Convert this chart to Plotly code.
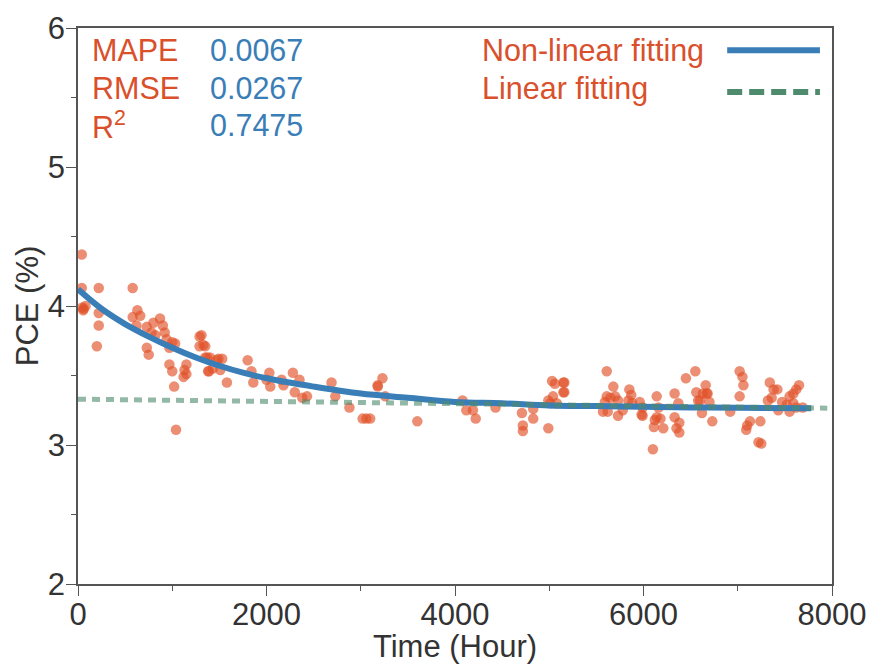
import plotly.graph_objects as go

# Measured PCE points
time_h = [40, 40, 45, 60, 80, 55, 220, 220, 220, 200, 580, 630, 580, 620, 660, 730, 800, 870, 900, 780,
          820, 730, 750, 920, 940, 1000, 1030, 970, 970, 1000, 1020, 1040, 1150, 1130, 1150, 1120, 1290, 1290,
          1350, 1350, 1400, 1490, 1380, 1430, 1310, 1330, 1370, 1390, 1470, 1530, 1510, 1580, 1800, 1840,
          1860, 2030, 2000, 2040, 2160, 2180, 2280, 2350, 2300, 2380, 2430, 2690, 2730, 2880, 3020, 3060,
          3180, 3230, 3180, 3260, 3100, 3600, 4080, 4120, 4190, 4220, 4430, 4710, 4720, 4720, 4830, 4830,
          4990, 4990, 5030, 5060, 5040, 5150, 5150, 5010, 5080, 5160, 5160, 5610, 5680, 5610, 5590, 5650,
          5700, 5730, 5570, 5620, 5730, 5780, 5850, 5870, 5840, 5880, 5960, 5990, 5980, 5990, 6140, 6160,
          6140, 6120, 6180, 6110, 6210, 6100, 6330, 6370, 6330, 6380, 6350, 6380, 6450, 6550, 6560, 6600,
          6620, 6660, 6670, 6630, 6680, 6580, 6700, 6730, 6920, 7020, 7050, 7060, 7020, 7130, 7100, 7090,
          7240, 7220, 7250, 7340, 7380, 7420, 7320, 7360, 7470, 7550, 7590, 7620, 7650, 7520, 7590, 7550,
          7620, 7690, 7430]
pce = [4.37, 4.13, 3.99, 3.98, 4.00, 3.97, 4.13, 3.95, 3.86, 3.71, 4.13, 3.97, 3.92, 3.86, 3.93, 3.85, 3.88,
       3.91, 3.86, 3.81, 3.79, 3.70, 3.65, 3.81, 3.76, 3.74, 3.73, 3.70, 3.58, 3.53, 3.42, 3.11, 3.58, 3.54,
       3.51, 3.49, 3.78, 3.71, 3.71, 3.63, 3.63, 3.62, 3.53, 3.55, 3.79, 3.72, 3.63, 3.53, 3.61, 3.62, 3.54,
       3.45, 3.61, 3.53, 3.45, 3.52, 3.47, 3.42, 3.47, 3.43, 3.52, 3.47, 3.38, 3.34, 3.35, 3.45, 3.35, 3.27,
       3.19, 3.19, 3.42, 3.48, 3.43, 3.35, 3.19, 3.17, 3.32, 3.25, 3.25, 3.19, 3.27, 3.23, 3.14, 3.10, 3.26,
       3.19, 3.12, 3.32, 3.46, 3.44, 3.35, 3.45, 3.38, 3.30, 3.30, 3.45, 3.38, 3.53, 3.42, 3.35, 3.31, 3.34,
       3.35, 3.32, 3.24, 3.24, 3.21, 3.25, 3.40, 3.36, 3.32, 3.30, 3.31, 3.27, 3.22, 3.21, 3.35, 3.27, 3.20,
       3.18, 3.19, 3.13, 3.12, 2.97, 3.37, 3.30, 3.20, 3.16, 3.12, 3.09, 3.48, 3.53, 3.38, 3.32, 3.23, 3.43,
       3.37, 3.37, 3.37, 3.32, 3.31, 3.17, 3.24, 3.53, 3.49, 3.43, 3.35, 3.17, 3.14, 3.11, 3.17, 3.02, 3.01,
       3.45, 3.40, 3.40, 3.32, 3.34, 3.31, 3.35, 3.37, 3.40, 3.43, 3.29, 3.30, 3.24, 3.27, 3.27, 3.25]

# Non-linear fitted curve
fit_x = [0, 250, 500, 750, 1000, 1250, 1500, 1750, 2000, 2500, 3000, 3500, 4000, 4500, 5000, 5500,
         6000, 6500, 7000, 7780]
fit_y = [4.12, 3.98, 3.87, 3.78, 3.70, 3.63, 3.57, 3.52, 3.48, 3.42, 3.37, 3.34, 3.31, 3.30, 3.285,
         3.28, 3.275, 3.27, 3.268, 3.265]

# Linear fit
lin_x = [0, 7950]
lin_y = [3.33, 3.265]

metric_names = ["MAPE", "RMSE", "R<sup>2</sup>"]
metric_values = ["0.0067", "0.0267", "0.7475"]
legend_names = ["Non-linear fitting", "Linear fitting"]

RED = "#d9502b"
BLUE = "#3a7eb7"
GREEN = "#4e8a6c"
FONT = "Liberation Sans, Arial, sans-serif"

fig = go.Figure()
fig.add_trace(go.Scatter(x=time_h, y=pce, mode="markers",
                         marker=dict(size=10.5, color="rgb(224,82,40)", opacity=0.65, line=dict(width=0)),
                         showlegend=False))
fig.add_trace(go.Scatter(x=fit_x, y=fit_y, mode="lines", line=dict(color=BLUE, width=6, shape="spline"),
                         showlegend=False))
fig.add_trace(go.Scatter(x=lin_x, y=lin_y, mode="lines", opacity=0.6,
                         line=dict(color=GREEN, width=5, dash="8px,6px"), showlegend=False))

rows_y = [0.960, 0.892, 0.826]
for i, (n, v) in enumerate(zip(metric_names, metric_values)):
    fig.add_annotation(x=0.016, y=rows_y[i], xref="paper", yref="paper", text=n, showarrow=False,
                       xanchor="left", yanchor="middle", font=dict(size=30.5, color=RED, family=FONT))
    fig.add_annotation(x=0.172, y=rows_y[i], xref="paper", yref="paper", text=v, showarrow=False,
                       xanchor="left", yanchor="middle", font=dict(size=30.5, color=BLUE, family=FONT))

for i, n in enumerate(legend_names):
    fig.add_annotation(x=0.533, y=rows_y[i], xref="paper", yref="paper", text=n, showarrow=False,
                       xanchor="left", yanchor="middle", font=dict(size=30.5, color=RED, family=FONT))
fig.add_shape(type="line", xref="paper", yref="paper", x0=0.861, x1=0.984, y0=0.960, y1=0.960,
              line=dict(color=BLUE, width=6))
fig.add_shape(type="line", xref="paper", yref="paper", x0=0.861, x1=0.984, y0=0.885, y1=0.885,
              line=dict(color=GREEN, width=6, dash="15px,7px"))

axis_common = dict(showline=True, linecolor="#555555", linewidth=1.5, mirror=True, showgrid=False,
                   zeroline=False, ticks="outside", ticklen=10, tickwidth=1.2, tickcolor="#555555",
                   automargin=False,
                   tickfont=dict(size=31, color="#333333", family=FONT))
fig.update_xaxes(range=[0, 8000], dtick=2000, tick0=0, ticklabelstandoff=-8,
                 minor=dict(dtick=1000, ticks="outside", ticklen=5, tickcolor="#555555"),
                 title=dict(text="Time (Hour)", font=dict(size=31, color="#333333", family=FONT), standoff=0),
                 **axis_common)
fig.update_yaxes(range=[2, 6], dtick=1, tick0=2, ticklabelstandoff=-5,
                 minor=dict(dtick=0.5, ticks="outside", ticklen=5, tickcolor="#555555"),
                 title=dict(text="PCE (%)", font=dict(size=31, color="#333333", family=FONT), standoff=0),
                 **axis_common)

# page body adds an 8px offset, so the figure is drawn 8px smaller
fig.update_layout(width=866, height=656, margin=dict(l=70, r=42, t=20, b=80),
                  plot_bgcolor="white", paper_bgcolor="white", font=dict(family=FONT))
fig.write_html("out.html")
